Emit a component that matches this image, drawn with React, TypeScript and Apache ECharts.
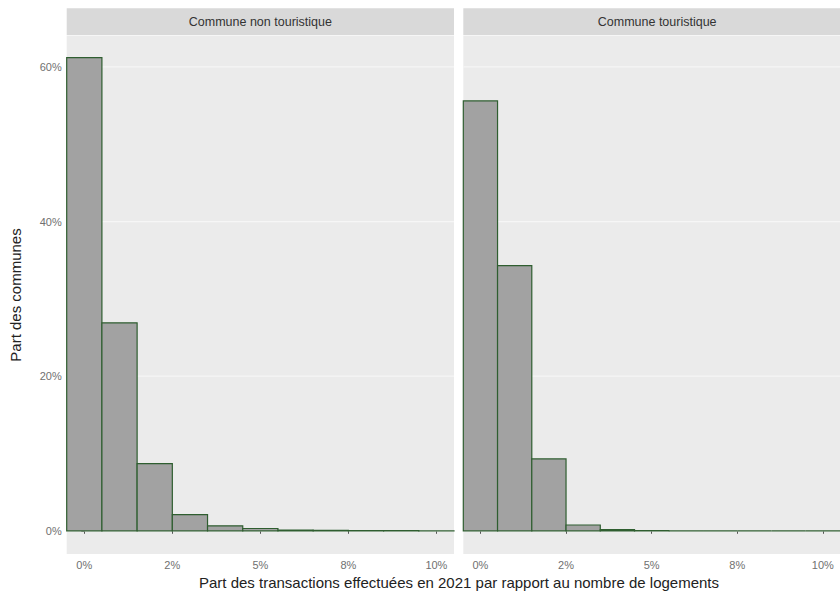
import React, { useEffect, useRef } from "react";
import * as echarts from "echarts";

// ---- Data ----
const facetLabels = ["Commune non touristique", "Commune touristique"];
const binCenters = [0, 1, 2, 3, 4, 5, 6, 7, 8, 9, 10];
const binWidth = 1;
const nonTouristique = [61.2, 26.9, 8.7, 2.1, 0.65, 0.3, 0.1, 0.05, 0.03, 0.02, 0.01];
const touristique = [55.6, 34.3, 9.3, 0.75, 0.15, 0.02, 0, 0, 0, 0, 0];
const xTickValues = [0, 2.5, 5, 7.5, 10];
const xTickLabels = ["0%", "2%", "5%", "8%", "10%"];
const yTickValues = [0, 20, 40, 60];
const yTickLabels = ["0%", "20%", "40%", "60%"];
const xTitle = "Part des transactions effectuées en 2021 par rapport au nombre de logements";
const yTitle = "Part des communes";

const X_MIN = -0.5;
const X_MAX = 10.5;
const Y_MIN = -3.0;
const Y_MAX = 64.0;

const FONT = "Liberation Sans, Arial, sans-serif";

const grids = [
  { left: 66.7, top: 36, width: 387.3, height: 518 },
  { left: 463.3, top: 36, width: 387.7, height: 518 },
];

function gridData() {
  return yTickValues.map((v) => [v]);
}

function histData(values: number[]) {
  return binCenters.map((c, i) => [c - binWidth / 2, c + binWidth / 2, values[i]]);
}

export default function App() {
  const ref = useRef<HTMLDivElement>(null);
  useEffect(() => {
    if (!ref.current) return;
    const chart = echarts.init(ref.current, null, { renderer: "svg" });
    const series: any[] = [];
    const xAxes: any[] = [];
    const yAxes: any[] = [];
    [nonTouristique, touristique].forEach((vals, gi) => {
      xAxes.push({
        type: "value",
        gridIndex: gi,
        min: X_MIN,
        max: X_MAX,
        axisLine: { show: false },
        splitLine: { show: false },
        axisTick: {
          show: true,
          customValues: xTickValues,
          length: 3,
          lineStyle: { color: "#555", width: 1 },
        },
        axisLabel: {
          customValues: xTickValues,
          formatter: (v: number) => {
            const idx = xTickValues.findIndex((t) => Math.abs(t - v) < 1e-9);
            return idx >= 0 ? xTickLabels[idx] : "";
          },
          color: "#707070",
          fontSize: 11,
          fontFamily: FONT,
          margin: 5,
        },
      });
      yAxes.push({
        type: "value",
        gridIndex: gi,
        min: Y_MIN,
        max: Y_MAX,
        axisLine: { show: false },
        splitLine: { show: false },
        axisTick: {
          show: gi === 0,
          customValues: yTickValues,
          length: 3,
          lineStyle: { color: "#555", width: 1 },
        },
        axisLabel: {
          show: gi === 0,
          customValues: yTickValues,
          formatter: (v: number) => {
            const idx = yTickValues.findIndex((t) => Math.abs(t - v) < 1e-9);
            return idx >= 0 ? yTickLabels[idx] : "";
          },
          color: "#707070",
          fontSize: 11,
          fontFamily: FONT,
          margin: 5,
        },
        name: gi === 0 ? yTitle : "",
        nameLocation: "middle",
        nameGap: 44,
        nameRotate: 90,
        nameTextStyle: { fontSize: 15, color: "#222", fontFamily: FONT },
      });
      series.push({
        type: "custom",
        xAxisIndex: gi,
        yAxisIndex: gi,
        z: 1,
        silent: true,
        data: gridData(),
        renderItem: (params: any, api: any) => {
          const v = api.value(0);
          const p1 = api.coord([X_MIN, v]);
          const p2 = api.coord([X_MAX, v]);
          return {
            type: "line",
            shape: { x1: p1[0], y1: p1[1], x2: p2[0], y2: p2[1] },
            style: { stroke: "#f6f6f6", lineWidth: 1.3 },
          };
        },
      });
      series.push({
        type: "custom",
        xAxisIndex: gi,
        yAxisIndex: gi,
        z: 2,
        encode: { x: [0, 1], y: 2 },
        data: histData(vals),
        renderItem: (params: any, api: any) => {
          const a = api.coord([api.value(0), api.value(2)]);
          const b = api.coord([api.value(1), 0]);
          return {
            type: "rect",
            shape: { x: a[0], y: a[1], width: b[0] - a[0], height: b[1] - a[1] },
            style: { fill: "#a2a2a2", stroke: "#2f5e30", lineWidth: 1.2 },
          };
        },
      });
    });

    const graphics: any[] = [];
    grids.forEach((g, i) => {
      graphics.push({
        type: "rect",
        shape: { x: g.left, y: 8.3, width: g.width, height: 27 },
        style: { fill: "#d9d9d9" },
        silent: true,
      });
      graphics.push({
        type: "text",
        x: g.left + g.width / 2,
        y: 8.3 + 13.5,
        style: {
          text: facetLabels[i],
          fontSize: 12.5,
          fontFamily: FONT,
          fill: "#333",
          textAlign: "center",
          textVerticalAlign: "middle",
        },
        silent: true,
      });
    });

    chart.setOption({
      animation: false,
      textStyle: { fontFamily: FONT },
      title: {
        text: xTitle,
        left: 459,
        top: 575,
        textAlign: "center",
        padding: 0,
        textStyle: { fontSize: 15, fontWeight: "normal", color: "#222", fontFamily: FONT },
      },
      grid: grids.map((g) => ({
        left: g.left,
        top: g.top,
        width: g.width,
        height: g.height,
        show: true,
        backgroundColor: "#ebebeb",
        borderWidth: 0,
        containLabel: false,
      })),
      xAxis: xAxes,
      yAxis: yAxes,
      series,
      graphic: graphics,
    });
    return () => chart.dispose();
  }, []);
  return (
    <div
      ref={ref}
      style={{ position: "absolute", left: 0, top: 0, width: 840, height: 599, background: "#fff" }}
    />
  );
}
